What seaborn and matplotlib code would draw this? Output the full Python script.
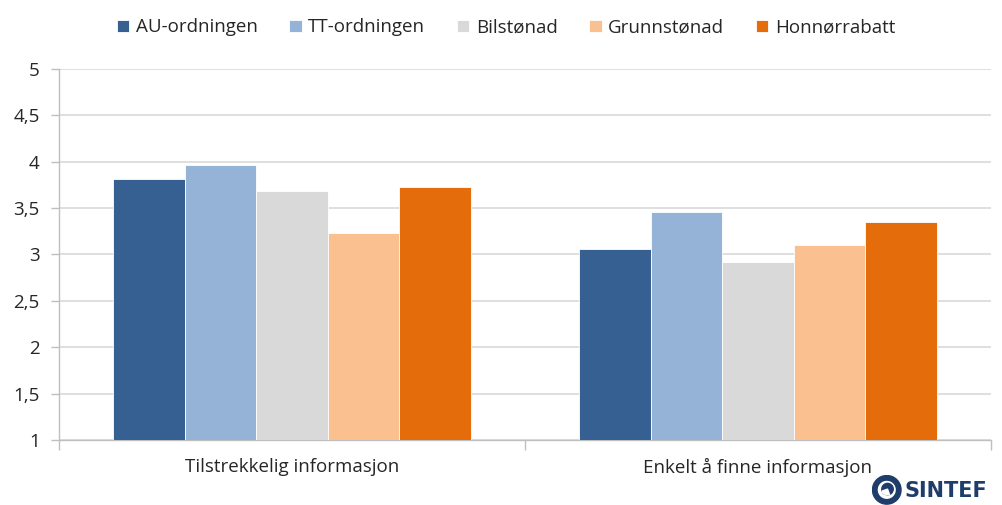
import matplotlib
matplotlib.use("Agg")
import matplotlib.pyplot as plt
from matplotlib.patches import Circle, Wedge
from matplotlib.ticker import FixedLocator
import pandas as pd
import seaborn as sns

categories = ["Tilstrekkelig informasjon", "Enkelt å finne informasjon"]
series = ["AU-ordningen", "TT-ordningen", "Bilstønad", "Grunnstønad", "Honnørrabatt"]
au = [3.81, 3.06]
tt = [3.97, 3.46]
bil = [3.68, 2.92]
grunn = [3.23, 3.10]
honn = [3.73, 3.35]
colors = ["#366092", "#95B3D7", "#D9D9D9", "#FAC090", "#E46C0A"]
y_ticks = [1, 1.5, 2, 2.5, 3, 3.5, 4, 4.5, 5]
y_labels = ["1", "1,5", "2", "2,5", "3", "3,5", "4", "4,5", "5"]

rows = []
for name, vals in zip(series, [au, tt, bil, grunn, honn]):
    for cat, v in zip(categories, vals):
        rows.append({"kategori": cat, "ordning": name, "verdi": v})
df = pd.DataFrame(rows)

sns.set_theme(style="white")
plt.rcParams["font.family"] = ["Open Sans", "DejaVu Sans"]

fig = plt.figure(figsize=(10.02, 5.05), dpi=100)
ax = fig.add_axes([0.0589, 0.1287, 0.9301, 0.7347])

sns.barplot(data=df, x="kategori", y="verdi", hue="ordning", order=categories,
            hue_order=series, palette=colors, width=0.768, ax=ax,
            edgecolor="white", linewidth=0.6, saturation=1, errorbar=None,
            zorder=3)

ax.set_xlim(-0.5, 1.5)
ax.set_ylim(1, 5)
ax.set_yticks(y_ticks)
ax.set_yticklabels(y_labels, fontsize=13.5, color="#262626")
ax.yaxis.grid(True, color="#D9D9D9", linewidth=1.2, zorder=0)
ax.set_axisbelow(True)
ax.tick_params(axis="y", length=6, width=1, color="#BFBFBF", pad=8, left=True)
ax.tick_params(axis="x", which="major", length=0, pad=13, labelsize=13.5,
               labelcolor="#262626")
ax.xaxis.set_minor_locator(FixedLocator([-0.5, 0.5, 1.5]))
ax.tick_params(axis="x", which="minor", length=7, width=1, color="#BFBFBF",
               bottom=True)
ax.set_xlabel("")
ax.set_ylabel("")
for s in ["top", "right"]:
    ax.spines[s].set_visible(False)
for s in ["left", "bottom"]:
    ax.spines[s].set_color("#BFBFBF")
    ax.spines[s].set_linewidth(1)

handles, labels = ax.get_legend_handles_labels()
ax.legend(handles, labels, loc="upper center", bbox_to_anchor=(0.505, 0.997),
          bbox_transform=fig.transFigure, ncol=5, frameon=False, fontsize=13.5,
          handlelength=0.65, handleheight=0.65, handletextpad=0.35,
          columnspacing=1.7, labelcolor="#262626")

# SINTEF logo in the lower right corner
fig.text(0.903, 0.008, "SINTEF", fontsize=15, fontweight="bold",
         color="#1F3D6B", ha="left", va="bottom", family="DejaVu Sans")
logo_ax = fig.add_axes([0.87, 0.0, 0.03, 0.06])
logo_ax.set_xlim(-1, 1)
logo_ax.set_ylim(-1, 1)
logo_ax.set_aspect("equal")
logo_ax.axis("off")
logo_ax.add_patch(Wedge((0, 0), 0.95, 0, 360, width=0.3, color="#1F3D6B"))
logo_ax.add_patch(Circle((0.05, 0.05), 0.38, color="#1F3D6B"))
logo_ax.add_patch(Wedge((0.05, 0.05), 0.38, 200, 290, color="white"))

fig.savefig("out.png", dpi=100)
